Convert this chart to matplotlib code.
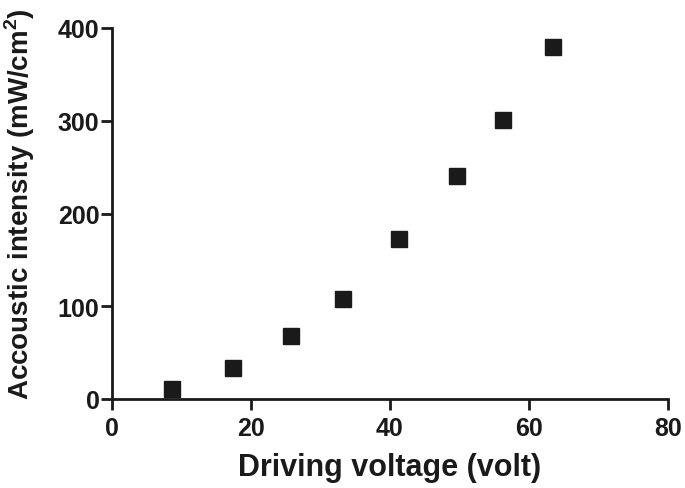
import matplotlib
matplotlib.use("Agg")
import matplotlib.pyplot as plt

voltage = [8.7, 17.4, 25.7, 33.3, 41.3, 49.7, 56.2, 63.4]
intensity = [10.5, 33.5, 68, 108, 172, 240, 301, 379.5]
xticks = [0, 20, 40, 60, 80]
yticks = [0, 100, 200, 300, 400]

plt.rcParams['font.family'] = ['Liberation Sans', 'DejaVu Sans']
plt.rcParams['font.weight'] = 'bold'
plt.rcParams['mathtext.fontset'] = 'custom'
plt.rcParams['mathtext.bf'] = 'Liberation Sans:bold'
plt.rcParams['mathtext.rm'] = 'Liberation Sans:bold'

fig = plt.figure(figsize=(6.85, 4.89), dpi=100)
ax = fig.add_axes([112/685, 1-400/489, (668-112)/685, (400-29)/489])

ax.plot(voltage, intensity, linestyle='none', marker='s', markersize=11.2,
        color='#1a1a1a', markeredgecolor='#1a1a1a', clip_on=False)

ax.set_xlim(0, 80)
ax.set_ylim(0, 400)
ax.set_xticks(xticks)
ax.set_yticks(yticks)
for s in ['top', 'right']:
    ax.spines[s].set_visible(False)
for s in ['left', 'bottom']:
    ax.spines[s].set_linewidth(2.0)
    ax.spines[s].set_color('#1a1a1a')
    ax.spines[s].set_capstyle('projecting')
ax.tick_params(direction='out', length=8, width=2.0, colors='#1a1a1a',
               labelsize=18)
ax.tick_params(axis='x', pad=4)
ax.tick_params(axis='y', pad=1)
for lab in ax.get_xticklabels() + ax.get_yticklabels():
    lab.set_fontweight('bold')

ax.set_xlabel('Driving voltage (volt)', fontsize=22, fontweight='bold', labelpad=9, color='#1a1a1a')
ax.set_ylabel('Accoustic intensity (mW/cm$^\\mathbf{2}$)', fontsize=20, fontweight='bold', color='#1a1a1a')
ax.yaxis.set_label_coords(-0.135, 0.527)

fig.savefig('out.png', dpi=100)
